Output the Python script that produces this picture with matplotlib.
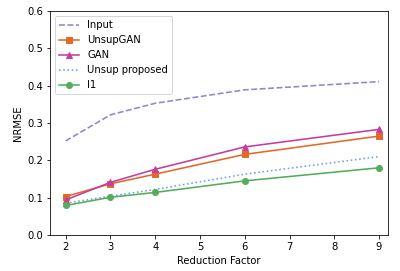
import matplotlib
matplotlib.use('Agg')
import matplotlib.pyplot as plt

# data
factor = [2, 3, 4, 6, 9]
inp = [0.252, 0.322, 0.353, 0.389, 0.411]
unsupgan = [0.103, 0.137, 0.163, 0.216, 0.265]
gan = [0.094, 0.141, 0.176, 0.236, 0.283]
unsup_prop = [0.085, 0.104, 0.122, 0.163, 0.210]
l1 = [0.079, 0.101, 0.114, 0.145, 0.180]

fig = plt.figure(figsize=(400/72, 271/72), dpi=72)
ax = fig.add_axes([0.125, 0.133, 0.845, 0.826])

ax.plot(factor, inp, '--', color='#8f86d1', lw=1.6, label='Input')
ax.plot(factor, unsupgan, '-s', color='#e2692a', lw=1.6, ms=6, label='UnsupGAN')
ax.plot(factor, gan, '-^', color='#c53da0', lw=1.6, ms=6, label='GAN')
ax.plot(factor, unsup_prop, ':', color='#6aa3dc', lw=1.6, label='Unsup proposed')
ax.plot(factor, l1, '-o', color='#55ad5b', lw=1.6, ms=6, label='l1')

ax.set_xlim(1.65, 9.2)
ax.set_ylim(0, 0.6)
ax.set_xlabel('Reduction Factor')
ax.set_ylabel('NRMSE')
ax.legend(loc='upper left')

fig.savefig('out.png', dpi=72)
